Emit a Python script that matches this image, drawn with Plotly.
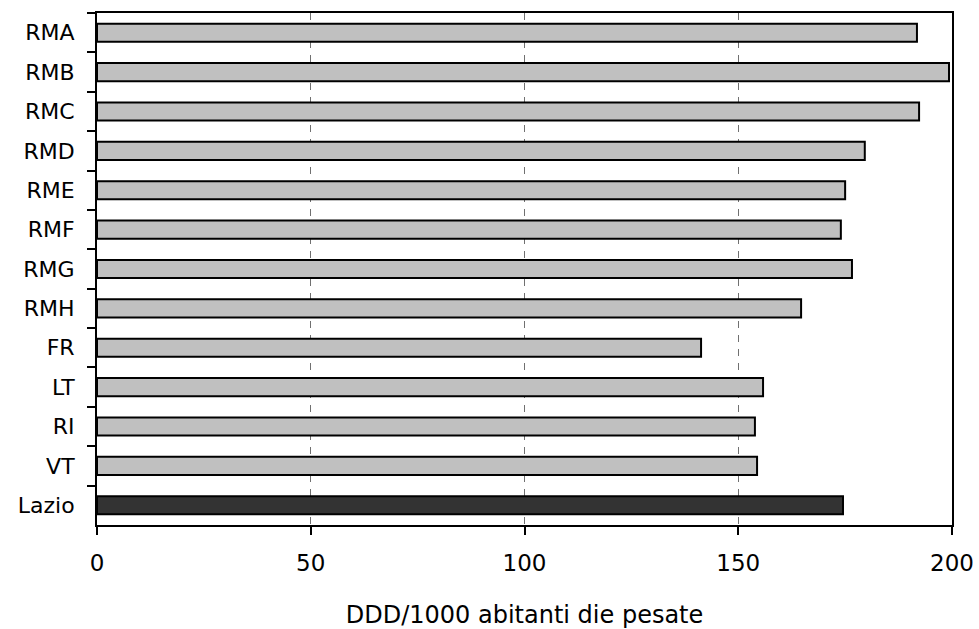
import plotly.graph_objects as go

categories = ["RMA", "RMB", "RMC", "RMD", "RME", "RMF", "RMG", "RMH", "FR", "LT", "RI", "VT", "Lazio"]
values = [191.8, 199.3, 192.3, 179.6, 175.0, 174.0, 176.6, 164.7, 141.3, 155.8, 153.9, 154.4, 174.5]
colors = ["#C0C0C0"] * 12 + ["#333333"]
x_ticks = [0, 50, 100, 150, 200]
x_title = "DDD/1000 abitanti die pesate"

font_family = "DejaVu Sans, Verdana, sans-serif"

fig = go.Figure(go.Bar(
    x=values, y=categories, orientation="h",
    marker=dict(color=colors, line=dict(color="black", width=2)),
    width=0.46,
))

fig.update_layout(
    width=979, height=629,
    margin=dict(l=97, r=27, t=13, b=104, autoexpand=False),
    plot_bgcolor="white", paper_bgcolor="white",
    font=dict(family=font_family, size=22, color="black"),
    showlegend=False,
)

fig.update_xaxes(
    range=[0, 200], tickvals=x_ticks, ticktext=[str(t) for t in x_ticks],
    showgrid=True, gridcolor="#707070", griddash="7px,7px", gridwidth=1,
    showline=True, linecolor="black", linewidth=2, mirror=True,
    ticks="outside", ticklen=8, tickwidth=2, tickcolor="black",
    ticklabelstandoff=8, ticklabeloverflow="allow",
    tickfont=dict(size=23),
    zeroline=False, automargin=False,
    title=dict(text=x_title, standoff=34, font=dict(size=24)),
)

fig.update_yaxes(
    categoryorder="array", categoryarray=categories, autorange="reversed",
    showgrid=False,
    showline=True, linecolor="black", linewidth=2, mirror=True,
    ticks="outside", ticklen=8, tickwidth=2, tickcolor="black",
    tickson="boundaries", automargin=False,
    ticklabelstandoff=16,
)

fig.write_html(
    "out.html",
    config={"displayModeBar": False},
    post_script="document.body.style.margin='0';document.body.style.overflow='hidden';",
)
